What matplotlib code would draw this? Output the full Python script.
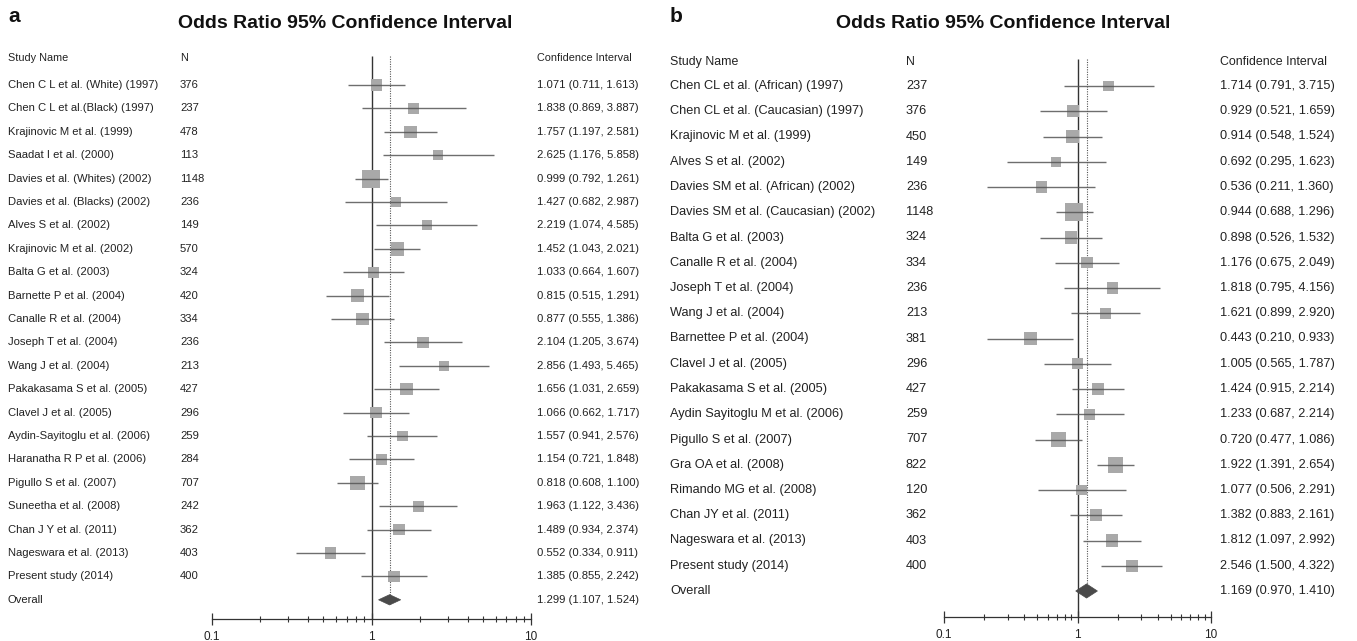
"""Two forest plots (odds ratio, 95% CI) side by side, written to out.png."""
from __future__ import annotations

import matplotlib
matplotlib.use("Agg")
import matplotlib.pyplot as plt
import matplotlib.ticker as mticker
from matplotlib.patches import Polygon
from matplotlib.transforms import blended_transform_factory

W_PX, H_PX = 1357, 641

# ---------------------------------------------------------------------------
# Data: panel a
# ---------------------------------------------------------------------------
studies_a = [
    "Chen C L et al. (White) (1997)", "Chen C L et al.(Black) (1997)",
    "Krajinovic M et al. (1999)", "Saadat I et al. (2000)",
    "Davies et al. (Whites) (2002)", "Davies et al. (Blacks) (2002)",
    "Alves S et al. (2002)", "Krajinovic M et al. (2002)",
    "Balta G et al. (2003)", "Barnette P et al. (2004)",
    "Canalle R et al. (2004)", "Joseph T et al. (2004)",
    "Wang J et al. (2004)", "Pakakasama S et al. (2005)",
    "Clavel J et al. (2005)", "Aydin-Sayitoglu et al. (2006)",
    "Haranatha R P et al. (2006)", "Pigullo S et al. (2007)",
    "Suneetha et al. (2008)", "Chan J Y et al. (2011)",
    "Nageswara et al. (2013)", "Present study (2014)",
]
n_a = [376, 237, 478, 113, 1148, 236, 149, 570, 324, 420, 334,
       236, 213, 427, 296, 259, 284, 707, 242, 362, 403, 400]
or_a = [1.071, 1.838, 1.757, 2.625, 0.999, 1.427, 2.219, 1.452, 1.033, 0.815, 0.877,
        2.104, 2.856, 1.656, 1.066, 1.557, 1.154, 0.818, 1.963, 1.489, 0.552, 1.385]
lo_a = [0.711, 0.869, 1.197, 1.176, 0.792, 0.682, 1.074, 1.043, 0.664, 0.515, 0.555,
        1.205, 1.493, 1.031, 0.662, 0.941, 0.721, 0.608, 1.122, 0.934, 0.334, 0.855]
hi_a = [1.613, 3.887, 2.581, 5.858, 1.261, 2.987, 4.585, 2.021, 1.607, 1.291, 1.386,
        3.674, 5.465, 2.659, 1.717, 2.576, 1.848, 1.100, 3.436, 2.374, 0.911, 2.242]
# relative weights (%), estimated from the square sizes
weight_a = [3.5, 3.2, 4.3, 2.8, 9.0, 2.8, 2.8, 5.1, 3.5, 4.3, 4.3,
            3.5, 2.8, 4.3, 3.5, 3.2, 3.5, 5.9, 3.2, 3.5, 3.5, 3.5]
overall_a = (1.299, 1.107, 1.524)

# ---------------------------------------------------------------------------
# Data: panel b
# ---------------------------------------------------------------------------
studies_b = [
    "Chen CL et al. (African) (1997)", "Chen CL et al. (Caucasian) (1997)",
    "Krajinovic M et al. (1999)", "Alves S et al. (2002)",
    "Davies SM et al. (African) (2002)", "Davies SM et al. (Caucasian) (2002)",
    "Balta G et al. (2003)", "Canalle R et al. (2004)",
    "Joseph T et al. (2004)", "Wang J et al. (2004)",
    "Barnettee P et al. (2004)", "Clavel J et al. (2005)",
    "Pakakasama S et al. (2005)", "Aydin Sayitoglu M et al. (2006)",
    "Pigullo S et al. (2007)", "Gra OA et al. (2008)",
    "Rimando MG et al. (2008)", "Chan JY et al. (2011)",
    "Nageswara et al. (2013)", "Present study (2014)",
]
n_b = [237, 376, 450, 149, 236, 1148, 324, 334, 236, 213,
       381, 296, 427, 259, 707, 822, 120, 362, 403, 400]
or_b = [1.714, 0.929, 0.914, 0.692, 0.536, 0.944, 0.898, 1.176, 1.818, 1.621,
        0.443, 1.005, 1.424, 1.233, 0.720, 1.922, 1.077, 1.382, 1.812, 2.546]
lo_b = [0.791, 0.521, 0.548, 0.295, 0.211, 0.688, 0.526, 0.675, 0.795, 0.899,
        0.210, 0.565, 0.915, 0.687, 0.477, 1.391, 0.506, 0.883, 1.097, 1.500]
hi_b = [3.715, 1.659, 1.524, 1.623, 1.360, 1.296, 1.532, 2.049, 4.156, 2.920,
        0.933, 1.787, 2.214, 2.214, 1.086, 2.654, 2.291, 2.161, 2.992, 4.322]
weight_b = [3.2, 4.3, 4.3, 2.8, 3.5, 9.0, 4.3, 3.5, 3.5, 3.5,
            4.3, 3.5, 4.3, 3.5, 6.4, 6.9, 3.2, 4.3, 4.3, 3.9]
overall_b = (1.169, 0.970, 1.410)

TEXT = "#222222"
SQUARE = "#a9a9a9"
CI_LINE = "#555555"
DIAMOND = "#4a4a4a"


def setup_style() -> None:
    plt.rcParams.update({
        "font.family": ["Liberation Sans", "DejaVu Sans"],
        "axes.spines.top": False,
        "axes.spines.right": False,
        "axes.spines.left": False,
    })


def forest_panel(fig, studies, ns, ors, los, his, weights, overall, layout):
    """Draw one forest plot; `layout` holds pixel geometry of the panel."""
    row0, step = layout["row0"], layout["step"]
    x01, x10 = layout["x01"], layout["x10"]
    top_px, axis_px = layout["top"], layout["axis"]
    fs = layout["fontsize"]

    def idx(px):
        return 1 + (px - row0) / step

    ax = fig.add_axes([
        x01 / W_PX, 1 - axis_px / H_PX,
        (x10 - x01) / W_PX, (axis_px - top_px) / H_PX,
    ])
    ax.set_xscale("log")
    ax.set_xlim(0.1, 10)
    ax.set_ylim(idx(axis_px), idx(top_px))
    ax.patch.set_alpha(0)
    ax.set_yticks([])

    n_rows = len(studies)
    rows = list(range(1, n_rows + 1))
    overall_row = n_rows + 1
    header_row = idx(layout["header"])

    # reference lines
    ax.vlines(1, header_row - 0.1, idx(axis_px), color="#333333", linewidth=1.0, zorder=1)
    ax.vlines(overall[0], header_row - 0.1, overall_row + 0.2, color="#555555",
              linewidth=0.8, linestyles=(0, (1, 1.2)), zorder=1)

    # study squares and CI bars
    sides = [18 * (w / 9.0) ** 0.5 * 0.72 for w in weights]
    ax.scatter(ors, rows, s=[s ** 2 for s in sides], marker="s", color=SQUARE,
               edgecolors="none", zorder=2)
    ax.hlines(rows, los, his, color=CI_LINE, linewidth=1.0, alpha=0.85, zorder=3)

    # overall diamond
    est, lo, hi = overall
    h = layout["diamond_h"]
    ax.add_patch(Polygon([(lo, overall_row), (est, overall_row - h),
                          (hi, overall_row), (est, overall_row + h)],
                         closed=True, facecolor=DIAMOND, edgecolor=DIAMOND,
                         linewidth=0.5, zorder=4))

    # bottom axis
    ax.spines["bottom"].set_color("#333333")
    ax.spines["bottom"].set_linewidth(0.9)
    ax.xaxis.set_major_locator(mticker.FixedLocator([0.1, 1, 10]))
    ax.xaxis.set_minor_locator(mticker.LogLocator(base=10, subs=range(2, 10)))
    ax.xaxis.set_major_formatter(mticker.FuncFormatter(lambda v, _: f"{v:g}"))
    ax.xaxis.set_minor_formatter(mticker.NullFormatter())
    ax.tick_params(axis="x", which="major", direction="inout", length=9, width=0.9,
                   color="#333333", labelsize=8.5, labelcolor=TEXT, pad=4)
    ax.tick_params(axis="x", which="minor", direction="inout", length=5, width=0.8,
                   color="#333333")

    # text columns
    tr = blended_transform_factory(fig.transFigure, ax.transData)
    xn, xN, xc = (layout["col_name"] / W_PX, layout["col_n"] / W_PX,
                  layout["col_ci"] / W_PX)
    hdr = dict(transform=tr, va="center", ha="left", fontsize=fs - 0.3, color=TEXT)
    ax.text(xn, header_row, "Study Name", **hdr)
    ax.text(xN, header_row, "N", **hdr)
    ax.text(xc, header_row, "Confidence Interval", **hdr)

    cell = dict(transform=tr, va="center", ha="left", fontsize=fs, color=TEXT,
                clip_on=False)
    for r, name, n, o, l, u in zip(rows, studies, ns, ors, los, his):
        ax.text(xn, r, name, **cell)
        ax.text(xN, r, str(n), **cell)
        ax.text(xc, r, f"{o:.3f} ({l:.3f}, {u:.3f})", **cell)
    ax.text(xn, overall_row, "Overall", **cell)
    ax.text(xc, overall_row, f"{est:.3f} ({lo:.3f}, {hi:.3f})", **cell)

    # titles
    fig.text(layout["col_name"] / W_PX, 1 - 17 / H_PX, layout["letter"],
             fontsize=15, fontweight="bold", va="center", ha="left", color="#111111")
    fig.text(layout["title_x"] / W_PX, 1 - 23 / H_PX,
             "Odds Ratio 95% Confidence Interval",
             fontsize=14, fontweight="bold", va="center", ha="center", color="#111111")
    return ax


def main() -> int:
    setup_style()
    fig = plt.figure(figsize=(W_PX / 100, H_PX / 100), dpi=100)

    layout_a = dict(row0=85, step=23.4, x01=212, x10=531, top=40, axis=619,
                    header=58, fontsize=8.1, col_name=8, col_n=180, col_ci=537,
                    diamond_h=0.22, letter="a", title_x=345)
    layout_b = dict(row0=86, step=25.25, x01=944, x10=1211, top=40, axis=617,
                    header=62, fontsize=9.2, col_name=670, col_n=906, col_ci=1220,
                    diamond_h=0.28, letter="b", title_x=1003)

    forest_panel(fig, studies_a, n_a, or_a, lo_a, hi_a, weight_a, overall_a, layout_a)
    forest_panel(fig, studies_b, n_b, or_b, lo_b, hi_b, weight_b, overall_b, layout_b)

    fig.savefig("out.png", dpi=100)
    plt.close(fig)
    return 0


if __name__ == "__main__":
    raise SystemExit(main())
